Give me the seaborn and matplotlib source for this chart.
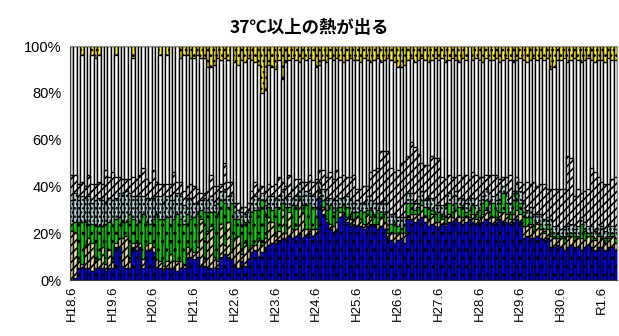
import numpy as np
import pandas as pd
import matplotlib
matplotlib.use("Agg")
import matplotlib.pyplot as plt
import seaborn as sns

# ---- data (percent, one value per month, H18.6 ... R1.10) ----
blue = [0, 1, 5, 5, 5, 5, 4, 5, 5, 5, 4, 5,
        5, 14, 14, 6, 5, 5, 14, 13, 14, 5, 13, 13,
        12, 5, 5, 4, 5, 5, 5, 4, 5, 5, 10, 10,
        9, 10, 6, 6, 5, 5, 5, 5, 10, 11, 10, 9,
        6, 5, 8, 6, 9, 12, 13, 10, 12, 14, 15, 16,
        16, 17, 18, 17, 19, 18, 19, 20, 18, 19, 20, 19,
        20, 35, 28, 25, 22, 20, 21, 27, 28, 25, 23, 24,
        23, 23, 22, 23, 24, 23, 22, 23, 22, 18, 17, 16,
        17, 18, 16, 26, 26, 25, 26, 27, 25, 23, 24, 23,
        22, 24, 23, 25, 25, 26, 25, 24, 25, 26, 25, 24,
        25, 25, 26, 25, 24, 25, 26, 25, 25, 24, 25, 26,
        25, 18, 19, 18, 18, 19, 18, 17, 18, 14, 14, 15,
        14, 13, 14, 15, 14, 14, 13, 14, 15, 14, 13, 14,
        14, 13, 14, 14, 13]
tan = [21, 19, 3, 2, 10, 13, 12, 3, 4, 9, 3, 8,
       3, 2, 4, 12, 14, 3, 2, 3, 2, 4, 2, 3,
       2, 4, 3, 2, 3, 6, 3, 4, 3, 2, 4, 3,
       3, 4, 20, 3, 16, 18, 5, 3, 14, 4, 15, 3,
       12, 14, 3, 10, 4, 3, 2, 8, 3, 4, 12, 9,
       3, 4, 12, 3, 10, 4, 3, 14, 11, 3, 2, 3,
       2, 2, 3, 1, 2, 3, 4, 2, 1, 2, 3, 2,
       4, 3, 2, 5, 3, 1, 2, 4, 3, 2, 3, 4,
       3, 2, 4, 1, 2, 3, 2, 5, 2, 3, 4, 2,
       3, 2, 1, 3, 2, 4, 2, 3, 2, 1, 3, 2,
       2, 3, 4, 2, 3, 2, 3, 4, 3, 2, 3, 4,
       3, 5, 4, 6, 3, 5, 4, 3, 4, 5, 4, 3,
       4, 3, 5, 4, 3, 4, 5, 3, 4, 3, 4, 5,
       4, 3, 4, 5, 3]
green = [3, 5, 17, 18, 10, 6, 8, 16, 14, 9, 17, 12,
         15, 10, 9, 7, 6, 20, 10, 8, 9, 19, 10, 8,
         12, 19, 18, 20, 19, 12, 18, 20, 18, 17, 14, 13,
         15, 14, 4, 20, 8, 6, 19, 20, 10, 18, 6, 21,
         8, 7, 12, 9, 12, 14, 15, 12, 19, 10, 4, 5,
         12, 10, 3, 11, 2, 10, 10, 2, 3, 10, 11, 9,
         5, 2, 3, 4, 8, 6, 5, 2, 3, 4, 2, 3,
         2, 4, 5, 2, 3, 4, 6, 2, 3, 2, 4, 5,
         3, 2, 4, 6, 5, 2, 3, 2, 4, 5, 2, 3,
         4, 2, 3, 5, 2, 3, 4, 5, 2, 3, 4, 2,
         3, 5, 4, 2, 6, 3, 4, 8, 5, 2, 6, 7,
         5, 6, 4, 3, 2, 1, 2, 1, 2, 3, 1, 2,
         1, 2, 1, 1, 2, 1, 6, 4, 1, 2, 1, 1,
         1, 2, 1, 1, 2]
cyan = [10, 12, 9, 11, 10, 12, 9, 10, 12, 11, 9, 10,
        11, 9, 10, 12, 13, 9, 10, 12, 11, 8, 10, 11,
        9, 8, 10, 7, 9, 11, 8, 9, 10, 8, 7, 9,
        6, 5, 4, 6, 5, 7, 3, 5, 4, 6, 5, 4,
        5, 4, 6, 3, 5, 4, 6, 5, 3, 4, 5, 6,
        4, 5, 6, 4, 5, 3, 4, 5, 4, 6, 4, 5,
        4, 3, 5, 4, 3, 5, 4, 4, 3, 5, 6, 4,
        5, 3, 4, 6, 4, 5, 3, 4, 6, 5, 4, 3,
        4, 5, 3, 4, 4, 3, 5, 4, 3, 4, 5, 4,
        3, 4, 5, 4, 3, 5, 4, 3, 4, 5, 3, 4,
        4, 3, 5, 4, 3, 4, 5, 3, 4, 5, 3, 4,
        5, 4, 3, 4, 5, 3, 4, 5, 3, 4, 4, 3,
        3, 4, 3, 4, 3, 4, 3, 4, 3, 4, 3, 4,
        4, 3, 4, 3, 4]
hatched = [11, 8, 7, 6, 5, 9, 8, 7, 7, 7, 14, 9,
           12, 9, 7, 6, 5, 6, 8, 7, 9, 12, 8, 7,
           12, 6, 5, 8, 5, 7, 12, 5, 6, 6, 5, 6,
           7, 6, 3, 2, 4, 9, 8, 7, 3, 11, 6, 5,
           2, 3, 2, 3, 3, 5, 6, 4, 3, 6, 5, 4,
           6, 8, 3, 5, 9, 4, 7, 2, 6, 4, 8, 6,
           12, 5, 8, 10, 11, 9, 13, 9, 10, 8, 10, 12,
           5, 6, 7, 4, 12, 14, 15, 22, 21, 28, 20, 18,
           20, 23, 24, 16, 22, 24, 18, 12, 15, 14, 18, 20,
           20, 12, 11, 8, 12, 6, 10, 9, 12, 8, 11, 13,
           10, 8, 6, 12, 9, 11, 5, 4, 7, 12, 1, 3,
           4, 8, 12, 10, 14, 12, 13, 15, 12, 13, 16, 16,
           17, 17, 30, 28, 14, 16, 10, 13, 16, 25, 25, 20,
           19, 20, 18, 20, 22]
white = [55, 55, 59, 54, 60, 55, 55, 54, 54, 59, 53, 56,
         54, 52, 56, 57, 57, 57, 51, 57, 55, 52, 57, 58,
         53, 58, 55, 59, 55, 59, 54, 58, 53, 58, 56, 54,
         55, 57, 58, 58, 53, 46, 52, 55, 53, 45, 52, 58,
         60, 59, 63, 62, 62, 56, 51, 53, 40, 43, 51, 51,
         49, 50, 44, 53, 49, 56, 51, 50, 53, 52, 50, 52,
         48, 45, 47, 49, 49, 51, 48, 50, 48, 50, 51, 49,
         55, 54, 55, 54, 47, 47, 47, 38, 39, 40, 46, 47,
         44, 41, 41, 41, 36, 36, 40, 45, 45, 44, 41, 43,
         42, 51, 50, 49, 51, 50, 48, 51, 49, 57, 48, 50,
         50, 49, 50, 49, 49, 50, 50, 50, 51, 49, 55, 50,
         53, 53, 51, 53, 53, 54, 54, 53, 56, 51, 52, 55,
         55, 56, 40, 42, 59, 55, 56, 56, 56, 46, 47, 50,
         52, 52, 54, 51, 50]
yellow = [0, 0, 0, 4, 0, 0, 4, 5, 4, 0, 0, 0,
          0, 4, 0, 0, 0, 0, 5, 0, 0, 0, 0, 0,
          0, 0, 4, 0, 4, 0, 0, 0, 5, 4, 4, 5,
          5, 4, 5, 5, 9, 9, 8, 5, 6, 5, 6, 0,
          7, 8, 6, 7, 5, 6, 7, 8, 20, 19, 8, 9,
          10, 6, 14, 7, 6, 5, 6, 7, 5, 6, 5, 6,
          9, 8, 6, 7, 5, 6, 5, 6, 7, 6, 5, 6,
          6, 7, 5, 6, 7, 6, 5, 7, 6, 5, 6, 7,
          9, 9, 8, 6, 5, 7, 6, 5, 6, 7, 6, 5,
          6, 5, 7, 6, 5, 6, 7, 5, 6, 0, 6, 5,
          6, 7, 5, 6, 6, 5, 7, 6, 5, 6, 7, 6,
          5, 6, 7, 6, 5, 6, 5, 6, 5, 10, 9, 6,
          6, 5, 7, 6, 5, 6, 7, 6, 5, 6, 7, 6,
          6, 7, 5, 6, 6]
tick_labels = ["H18.6", "H19.6", "H20.6", "H21.6", "H22.6", "H23.6", "H24.6",
               "H25.6", "H26.6", "H27.6", "H28.6", "H29.6", "H30.6", "R1.6"]
title = "37℃以上の熱が出る"

# ---- styling ----
series = [
    ("blue", blue, "#0000FF", ".."),
    ("tan", tan, "#F2E4A6", "////"),
    ("green", green, "#00DD00", ".."),
    ("cyan", cyan, "#BFE0E0", "...."),
    ("hatched", hatched, "#FFFFFF", "////"),
    ("white", white, "#FFFFFF", None),
    ("yellow", yellow, "#FFF200", "..."),
]

sns.set_theme(style="white")
plt.rcParams["hatch.linewidth"] = 1.2
plt.rcParams["font.family"] = ["Liberation Sans", "DejaVu Sans"]

n = len(blue)
idx = np.arange(n)
vals = np.array([s[1] for s in series], dtype=float)
pct = vals / vals.sum(axis=0) * 100.0
cum = np.cumsum(pct, axis=0)

fig = plt.figure(figsize=(6.19, 3.36), dpi=100)
ax = fig.add_axes([70 / 619, 1 - 280 / 336, 547 / 619, 234 / 336])

for k in range(len(series) - 1, -1, -1):
    name, _, color, hatch = series[k]
    df = pd.DataFrame({"x": idx, "y": cum[k]})
    kw = dict(edgecolor="black", linewidth=1.0)
    if hatch:
        kw["hatch"] = hatch
    sns.barplot(data=df, x="x", y="y", color=color, saturation=1,
                width=1.0, errorbar=None, ax=ax, **kw)

ax.set_xlim(-0.5, n - 0.5)
ax.set_ylim(0, 100)
ax.set_xticks(np.arange(0, n, 12)[:len(tick_labels)])
ax.set_xticklabels(tick_labels, rotation=90, fontsize=9.5, color="black")
ax.set_yticks([0, 20, 40, 60, 80, 100])
ax.set_yticklabels(["0%", "20%", "40%", "60%", "80%", "100%"], fontsize=10.5,
                   color="black")
ax.set_xlabel("")
ax.set_ylabel("")
ax.set_axisbelow(False)
ax.tick_params(axis="y", direction="in", length=5, color="black", pad=6)
ax.tick_params(axis="x", length=0, pad=4)
for side in ["top", "right"]:
    ax.spines[side].set_color("#909090")
    ax.spines[side].set_linewidth(0.8)
for side in ["left", "bottom"]:
    ax.spines[side].set_color("#404040")
    ax.spines[side].set_linewidth(0.8)

fig.text(0.5, 1 - 28 / 336, title, ha="center", va="center", fontsize=12.5,
         fontweight="bold", color="black",
         family=["Noto Sans CJK JP", "DejaVu Sans"])

fig.savefig("out.png", dpi=100)
